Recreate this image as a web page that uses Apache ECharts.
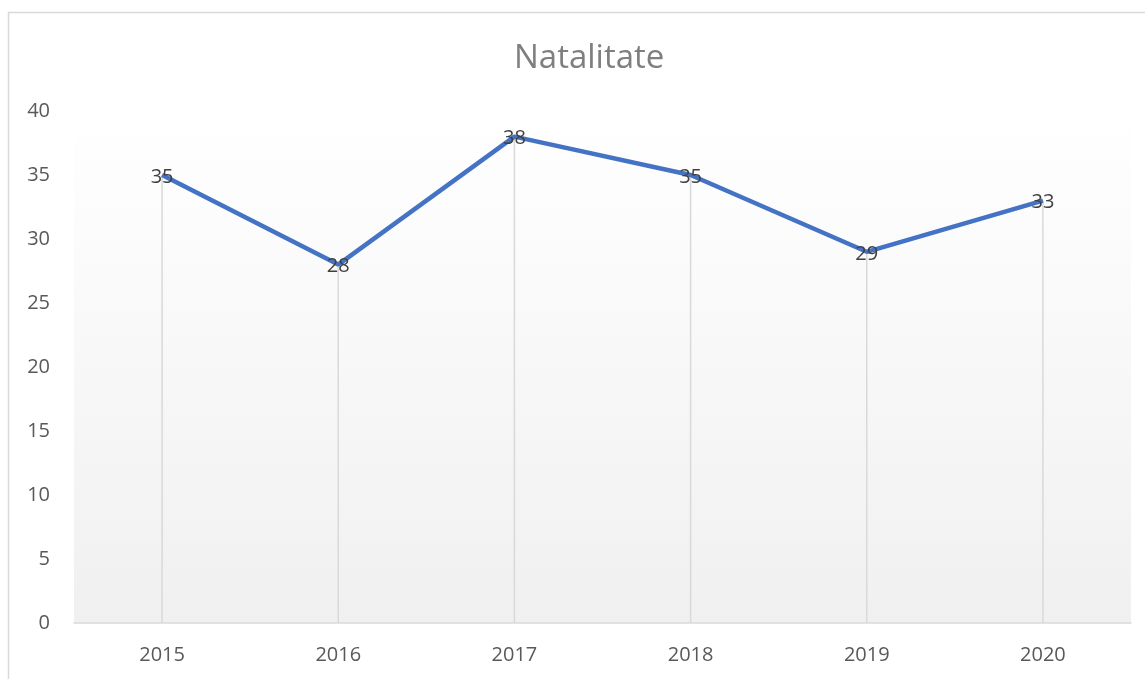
<!DOCTYPE html>
<html>
<head>
    <meta charset="UTF-8">
    <title>Natalitate</title>
    <script src="https://cdn.jsdelivr.net/npm/echarts@6/dist/echarts.min.js"></script>
    <style>
        html, body {margin: 0; padding: 0; background: #fff;}
    </style>
</head>
<body>
<div id="main" style="width: 1145px;height:679px;"></div>

<script>
    var years = ['2015', '2016', '2017', '2018', '2019', '2020'];
    var values = [35, 28, 38, 35, 29, 33];
    var yTicks = [0, 5, 10, 15, 20, 25, 30, 35, 40];

    var myChart = echarts.init(document.getElementById('main'));

    var font = 'Open Sans, Noto Sans, sans-serif';

    var option = {
        backgroundColor: '#fff',
        animation: false,
        title: {
            text: 'Natalitate',
            left: 509,
            top: 37,
            textStyle: {color: '#7f7f7f', fontSize: 33, fontWeight: 'normal', fontFamily: font}
        },
        graphic: [{
            type: 'rect',
            shape: {x: 8.5, y: 12.5, width: 1140, height: 680},
            style: {fill: 'none', stroke: '#d9d9d9', lineWidth: 1.5},
            silent: true,
            z: -10
        }],
        grid: {
            left: 74,
            right: 14,
            top: 111,
            bottom: 56,
            show: true,
            borderWidth: 0,
            backgroundColor: new echarts.graphic.LinearGradient(0, 0, 0, 1, [
                {offset: 0, color: '#ffffff'},
                {offset: 1, color: '#f0f0f0'}
            ])
        },
        xAxis: {
            type: 'category',
            data: years,
            boundaryGap: true,
            axisLine: {lineStyle: {color: '#d9d9d9', width: 1.5}},
            axisTick: {show: false},
            axisLabel: {color: '#595959', fontSize: 20, margin: 22, fontFamily: font},
            splitLine: {show: false}
        },
        yAxis: {
            type: 'value',
            min: yTicks[0],
            max: yTicks[yTicks.length - 1],
            interval: 5,
            axisLine: {show: false},
            axisTick: {show: false},
            axisLabel: {color: '#595959', fontSize: 20, margin: 24, fontFamily: font},
            splitLine: {show: false}
        },
        series: [
            {
                // drop lines
                type: 'bar',
                data: values,
                barWidth: 1.5,
                silent: true,
                itemStyle: {color: '#d9d9d9'},
                z: 1
            },
            {
                type: 'line',
                data: values,
                showSymbol: true,
                symbol: 'circle',
                symbolSize: 1,
                itemStyle: {color: 'rgba(0,0,0,0)'},
                lineStyle: {color: '#4472c4', width: 4.5},
                label: {
                    show: true,
                    position: 'inside',
                    offset: [0, 2],
                    color: '#404040',
                    fontSize: 20,
                    fontFamily: font
                },
                z: 3
            }
        ]
    };

    myChart.setOption(option);
</script>
</body>
</html>
